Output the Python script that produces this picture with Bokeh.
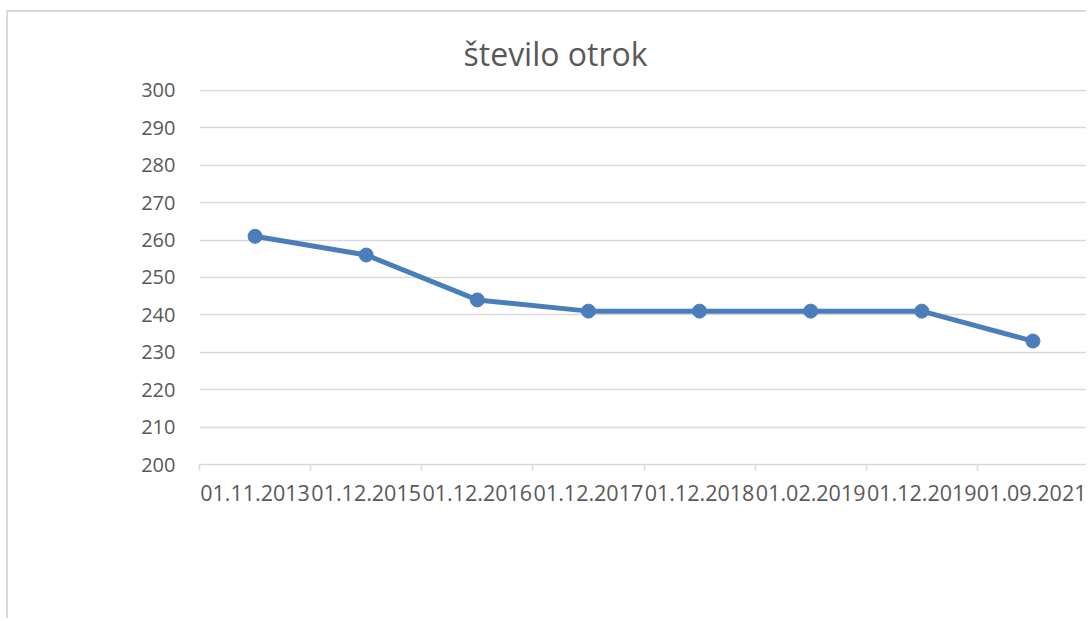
from bokeh.plotting import figure
from bokeh.models import Range1d, FixedTicker, ColumnDataSource, Title
from bokeh.embed import file_html
from bokeh.resources import INLINE

# ---- data ----
categories = ["01.11.2013", "01.12.2015", "01.12.2016", "01.12.2017",
              "01.12.2018", "01.02.2019", "01.12.2019", "01.09.2021"]
children = [261, 256, 244, 241, 241, 241, 241, 233]
y_ticks = [200, 210, 220, 230, 240, 250, 260, 270, 280, 290, 300]
title_text = "število otrok"

FONT = "Open Sans"
TXT = "#595959"
GRID = "#d9d9d9"
BLUE = "#4a7ebb"

n = len(categories)
xs = [i + 0.5 for i in range(n)]
src = ColumnDataSource(dict(x=xs, y=children, cat=categories))

H = 608
p = figure(width=1080, height=H, output_backend="svg", toolbar_location=None,
           x_range=Range1d(0, n), y_range=Range1d(200, 300.25))
p.min_border_left = 191
p.min_border_right = 0
p.min_border_top = 77
p.min_border_bottom = H - 77 - 375
p.outline_line_color = None
p.background_fill_color = "white"
p.border_fill_color = "white"
p.styles = {"border-top": "2px solid #d9d9d9", "border-left": "2px solid #d9d9d9",
            "margin-left": "6px", "margin-top": "10px"}

# title
p.add_layout(Title(text=title_text, align="left", offset=264, standoff=30,
                   text_font=FONT, text_font_size="32px", text_color=TXT,
                   text_font_style="normal"), "above")

# y axis
p.yaxis.ticker = FixedTicker(ticks=y_ticks)
p.yaxis.axis_line_color = None
p.yaxis.major_tick_line_color = None
p.yaxis.minor_tick_line_color = None
p.yaxis.major_tick_out = 0
p.yaxis.major_tick_in = 0
p.yaxis.major_label_standoff = 24
p.yaxis.major_label_text_font = FONT
p.yaxis.major_label_text_font_size = "20px"
p.yaxis.major_label_text_color = TXT

# x axis: labels at centers, tick marks at boundaries
p.xaxis.ticker = FixedTicker(ticks=xs, minor_ticks=list(range(n + 1)))
p.xaxis.major_label_overrides = {x: c for x, c in zip(xs, categories)}
p.xaxis.axis_line_color = GRID
p.xaxis.axis_line_width = 1.5
p.xaxis.major_tick_line_color = None
p.xaxis.major_tick_out = 0
p.xaxis.major_tick_in = 0
p.xaxis.minor_tick_line_color = GRID
p.xaxis.minor_tick_line_width = 1.5
p.xaxis.minor_tick_out = 6
p.xaxis.minor_tick_in = 0
p.xaxis.major_label_standoff = 14
p.xaxis.major_label_text_font = FONT
p.xaxis.major_label_text_font_size = "21.5px"
p.xaxis.major_label_text_color = TXT

p.xgrid.grid_line_color = None
p.ygrid.grid_line_color = GRID
p.ygrid.grid_line_width = 1.3

p.line("x", "y", source=src, line_color=BLUE, line_width=5, line_join="round")
p.scatter("x", "y", source=src, size=14, fill_color=BLUE, line_color=BLUE)

open("out.html", "w").write(file_html(p, INLINE))
